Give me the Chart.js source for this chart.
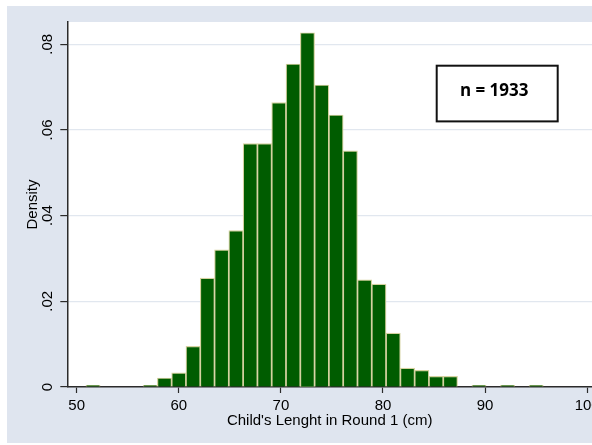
<!DOCTYPE html>
<html>
<head>
<meta charset="utf-8">
<script src="https://cdn.jsdelivr.net/npm/chart.js@4.4.1/dist/chart.umd.min.js"></script>
<style>
  html, body { margin: 0; padding: 0; background: #ffffff; }
  #wrap {
    position: absolute;
    left: 7px; top: 6px;
    width: 585px; height: 437px;
    background: #dfe5ef;
  }
</style>
</head>
<body>
<div id="wrap"><canvas id="histChart"></canvas></div>
<script>
// bin midpoints (cm), bin width 1.4
var binCenters = [51.6, 53.0, 54.4, 55.8, 57.2, 58.6, 60.0, 61.4, 62.8, 64.2, 65.6,
  67.0, 68.4, 69.8, 71.2, 72.6, 74.0, 75.4, 76.8, 78.2, 79.6, 81.0, 82.4, 83.8,
  85.2, 86.6, 88.0, 89.4, 90.8, 92.2, 93.6, 95.0]
// density per bin
var densities = [0.00037, 0, 0, 0, 0.00037, 0.0021, 0.0033, 0.0095, 0.0254, 0.0320, 0.0365,
  0.0568, 0.0568, 0.0664, 0.0754, 0.0827, 0.0705, 0.0635, 0.0551, 0.0250, 0.0240, 0.0126,
  0.0044, 0.0039, 0.0025, 0.0025, 0, 0.00037, 0, 0.00037, 0, 0.00037]

var xTicks = [50, 60, 70, 80, 90, 100]
var yTicks = [0, 0.02, 0.04, 0.06, 0.08]
var yTickLabels = ['0', '.02', '.04', '.06', '.08']
var noteText = 'n = 1933'

var axisColor = '#2b2b2b'
var gridColor = '#e1e7ef'

// white plot region
var plotBg = {
  id: 'plotBg',
  beforeDraw: function (chart) {
    var a = chart.chartArea, ctx = chart.ctx
    ctx.save()
    ctx.fillStyle = '#ffffff'
    ctx.fillRect(a.left, a.top, a.right - a.left, a.bottom - a.top)
    ctx.restore()
  }
}

// "n = 1933" box, placed in data units
var noteBox = {
  id: 'noteBox',
  afterDraw: function (chart) {
    var x = chart.scales.x, y = chart.scales.y, ctx = chart.ctx
    var l = x.getPixelForValue(85.26), r = x.getPixelForValue(97.11)
    var t = y.getPixelForValue(0.0750), b = y.getPixelForValue(0.0620)
    ctx.save()
    ctx.fillStyle = '#ffffff'
    ctx.fillRect(l, t, r - l, b - t)
    ctx.lineWidth = 2
    ctx.strokeStyle = '#111111'
    ctx.strokeRect(l, t, r - l, b - t)
    ctx.fillStyle = '#000000'
    ctx.font = 'bold 17px "Open Sans", sans-serif'
    ctx.textAlign = 'center'
    ctx.textBaseline = 'middle'
    ctx.fillText(noteText, (l + r) / 2 - 3, (t + b) / 2 - 2)
    ctx.restore()
  }
}

var ctx = document.getElementById('histChart').getContext('2d')
var histChart = new Chart(ctx, {
  type: 'bar',
  data: {
    datasets: [{
      label: 'Density',
      data: binCenters.map(function (c, i) { return { x: c, y: densities[i] } }),
      backgroundColor: '#005c00',
      borderColor: '#d5d2a0',
      borderWidth: 1.2,
      barPercentage: 1,
      categoryPercentage: 1
    }]
  },
  options: {
    responsive: true,
    maintainAspectRatio: false,
    animation: false,
    layout: { padding: { top: 16, left: 0, right: 0, bottom: 0 } },
    plugins: {
      legend: { display: false },
      tooltip: { enabled: false }
    },
    scales: {
      x: {
        type: 'linear',
        offset: false,
        min: 49.08,
        max: 100.47,
        afterBuildTicks: function (scale) {
          scale.ticks = xTicks.map(function (v) { return { value: v } })
        },
        afterFit: function (scale) {
          scale.height = 56
          scale.paddingLeft = 0
          scale.paddingRight = 0
        },
        grid: { drawOnChartArea: false, drawTicks: true, tickLength: 6, tickColor: axisColor, tickWidth: 1.2, offset: false },
        border: { display: true, color: axisColor, width: 1.5 },
        ticks: {
          color: '#000',
          padding: 4,
          maxRotation: 0,
          autoSkip: false,
          font: { family: '"Liberation Sans", Arial, sans-serif', size: 15 }
        },
        title: {
          display: true,
          text: "Child's Lenght in Round 1 (cm)",
          color: '#000',
          font: { family: '"Liberation Sans", Arial, sans-serif', size: 15 },
          padding: { top: 0, bottom: 13 }
        }
      },
      y: {
        min: 0,
        max: 0.0852,
        afterBuildTicks: function (scale) {
          scale.ticks = yTicks.map(function (v) { return { value: v } })
        },
        afterFit: function (scale) {
          scale.width = 60.3
          scale.paddingTop = 0
          scale.paddingBottom = 0
        },
        grid: {
          color: gridColor,
          lineWidth: 1.2,
          drawTicks: true,
          tickLength: 7,
          tickColor: axisColor,
          tickWidth: 1.2
        },
        border: { display: true, color: axisColor, width: 1.5 },
        ticks: {
          color: '#000',
          padding: 2,
          minRotation: 90,
          maxRotation: 90,
          crossAlign: 'center',
          autoSkip: false,
          font: { family: '"Liberation Sans", Arial, sans-serif', size: 15 },
          callback: function (value, index) { return yTickLabels[index] }
        },
        title: {
          display: true,
          text: 'Density',
          color: '#000',
          font: { family: '"Liberation Sans", Arial, sans-serif', size: 15 },
          padding: { top: 16.5, bottom: 0 }
        }
      }
    }
  },
  plugins: [plotBg, noteBox]
})
</script>
</body>
</html>
